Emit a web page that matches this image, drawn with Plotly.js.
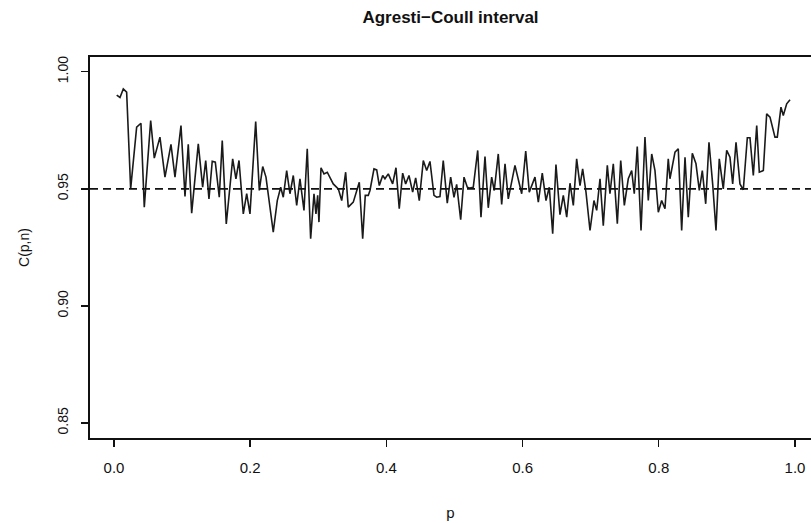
<!DOCTYPE html>
<html>
<head>
<meta charset="utf-8">
<script src="https://cdn.plot.ly/plotly-3.0.1.min.js"></script>
<style>html,body{margin:0;padding:0;background:#fff;overflow:hidden;}</style>
</head>
<body>
<div id="chart" style="width:811px;height:523px;"></div>
<script>
const chartTitle = "Agresti\u2212Coull interval";
const xTitle = "p";
const yTitle = "C(p,n)";
const nominalLevel = 0.95;

const xTickVals = [0, 0.2, 0.4, 0.6, 0.8, 1.0];
const xTickText = ["0.0", "0.2", "0.4", "0.6", "0.8", "1.0"];
const yTickVals = [0.85, 0.90, 0.95, 1.00];
const yTickText = ["0.85", "0.90", "0.95", "1.00"];

const p = [0.004,0.0088,0.0137,0.0186,0.0245,0.0333,0.0396,0.0445,0.0539,0.0592,0.0675,0.0749,0.0837,0.0896,0.0984,0.1043,0.1091,0.1141,0.1238,0.1302,0.1347,0.1395,0.1443,0.1488,0.1546,0.159,0.1649,0.1743,0.1791,0.1836,0.1899,0.1949,
0.1997,0.2081,0.2134,0.2184,0.2232,0.2339,0.2398,0.2448,0.2486,0.2536,0.2584,0.2633,0.2683,0.2731,0.279,0.2838,0.2888,0.2937,0.2966,0.2991,0.301,0.304,0.3084,0.3132,0.322,0.3294,0.3344,0.3402,0.344,0.3514,0.3602,0.3652,0.369,0.3734,0.3759,0.3818,0.3858,0.3896,0.3946,0.3979,0.4028,
0.4092,0.4141,0.4189,0.4239,0.4283,0.4332,0.4386,0.443,0.4483,0.4542,0.4592,0.464,0.4699,0.4739,0.4787,0.4835,0.4894,0.4944,0.4993,0.5032,0.5091,0.514,0.5188,0.5228,0.5276,0.5341,0.5389,0.5448,0.5496,0.5546,0.5584,0.5643,0.5693,0.5742,0.579,0.5888,0.5937,0.5987,0.6046,0.6098,
0.6182,0.6231,0.6289,0.6344,0.6392,0.6442,0.649,0.6549,0.6598,0.6648,0.6696,0.6745,0.6794,0.6843,0.6882,0.6931,0.699,0.7048,0.7088,0.7137,0.7185,0.7244,0.7283,0.7332,0.7391,0.7441,0.7494,0.7552,0.7602,0.764,0.7684,0.7739,0.7797,0.7846,0.7896,0.7944,0.7993,0.8042,0.8091,0.8139,
0.8164,0.8238,0.8286,0.8336,0.8385,0.8433,0.8492,0.8546,0.8595,0.8639,0.8689,0.8737,0.8791,0.884,0.8888,0.8947,0.8997,0.9045,0.9085,0.9134,0.9192,0.9241,0.93,0.9339,0.9388,0.9438,0.9476,0.9535,0.9584,0.9633,0.9706,0.974,0.9794,0.9828,0.9878,0.9927];

const coverage = [0.990,0.989,0.9927,0.9913,0.950,0.9763,0.978,0.9422,0.9792,0.9631,0.9721,0.955,0.969,0.955,0.977,0.9467,0.969,0.9396,0.9692,0.9507,0.9621,0.9457,0.9618,0.9614,0.9464,0.9706,0.935,0.9628,0.9543,0.9621,0.9393,0.948,
0.9393,0.9787,0.9493,0.9595,0.955,0.9315,0.945,0.9507,0.9464,0.9578,0.9479,0.9557,0.9429,0.9543,0.9408,0.9671,0.9287,0.9479,0.9393,0.9472,0.9358,0.959,0.9564,0.9571,0.9521,0.95,0.945,0.9571,0.9422,0.9443,0.9528,0.9287,0.9472,0.9472,0.9493,0.9585,0.9581,0.9514,0.9557,0.9543,0.9564,
0.9521,0.959,0.9415,0.9567,0.9521,0.9557,0.9486,0.9547,0.945,0.9621,0.9578,0.9617,0.9472,0.9464,0.9467,0.9621,0.9439,0.955,0.9464,0.9519,0.9368,0.955,0.9507,0.9503,0.9507,0.9664,0.9379,0.9638,0.9419,0.955,0.9493,0.9649,0.9433,0.9607,0.9457,0.96,0.9536,0.9479,0.9661,0.9486,
0.955,0.9443,0.9567,0.945,0.9507,0.9308,0.9604,0.939,0.9472,0.9379,0.9524,0.9429,0.9628,0.9514,0.9585,0.9486,0.9322,0.945,0.9408,0.9543,0.9343,0.96,0.9479,0.9607,0.9351,0.9621,0.9429,0.9543,0.9578,0.9479,0.9681,0.9322,0.9721,0.945,0.9649,0.9578,0.94,0.945,0.9415,0.9628,
0.9543,0.9657,0.9671,0.9322,0.9635,0.9379,0.9652,0.9607,0.9493,0.9578,0.9436,0.9699,0.9521,0.9322,0.9628,0.95,0.9664,0.9635,0.9521,0.9699,0.9521,0.9496,0.9718,0.9718,0.9557,0.977,0.9571,0.9578,0.982,0.9806,0.9721,0.9721,0.9849,0.9813,0.9863,0.988];

const fontFam = "Liberation Sans, Arial, sans-serif";

const traces = [{
  x: p,
  y: coverage,
  type: "scatter",
  mode: "lines",
  line: {color: "#1a1a1a", width: 1.6},
  hoverinfo: "skip",
  showlegend: false
}];

const layout = {
  width: 811,
  height: 523,
  margin: {l: 90, r: 0, t: 57, b: 85, pad: 0},
  paper_bgcolor: "#ffffff",
  plot_bgcolor: "#ffffff",
  showlegend: false,
  title: {
    text: "<b>" + chartTitle + "</b>",
    font: {family: fontFam, size: 17, color: "#111"},
    x: 0.5, xref: "paper", xanchor: "center",
    y: 0.968, yref: "container", yanchor: "middle"
  },
  xaxis: {
    range: [-0.0352, 1.0235],
    tickmode: "array",
    tickvals: xTickVals,
    ticktext: xTickText,
    ticks: "outside",
    ticklen: 7,
    tickwidth: 1.4,
    tickcolor: "#111",
    showline: true,
    linecolor: "#111",
    linewidth: 1.6,
    mirror: true,
    showgrid: false,
    zeroline: false,
    ticklabelstandoff: 8,
    tickfont: {family: fontFam, size: 15, color: "#111"},
    title: {text: xTitle, font: {family: fontFam, size: 15, color: "#111"}, standoff: 33}
  },
  yaxis: {
    range: [0.8436, 1.0063],
    tickmode: "array",
    tickvals: yTickVals,
    ticktext: yTickText,
    tickangle: -90,
    ticks: "outside",
    ticklen: 7,
    tickwidth: 1.4,
    tickcolor: "#111",
    showline: true,
    linecolor: "#111",
    linewidth: 1.6,
    showgrid: false,
    zeroline: false,
    ticklabelstandoff: 8,
    tickfont: {family: fontFam, size: 14, color: "#111"},
    title: {text: yTitle, font: {family: fontFam, size: 14, color: "#111"}, standoff: 22}
  },
  shapes: [{
    type: "line",
    xref: "paper", x0: 0, x1: 1,
    yref: "y", y0: nominalLevel, y1: nominalLevel,
    line: {color: "#111", width: 1.7, dash: "8px,5px"}
  }]
};

Plotly.newPlot("chart", traces, layout, {staticPlot: true, displayModeBar: false});
</script>
</body>
</html>
